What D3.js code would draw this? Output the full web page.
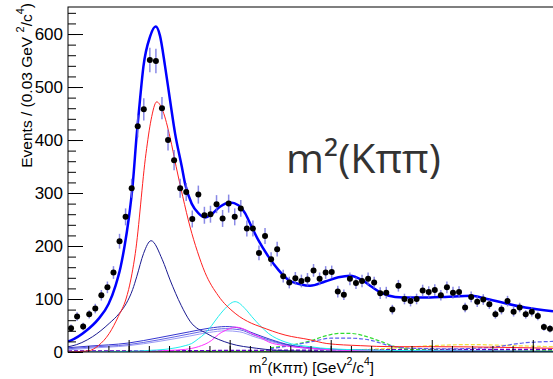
<!DOCTYPE html>
<html>
<head>
<meta charset="utf-8">
<script src="https://cdn.jsdelivr.net/npm/d3@7"></script>
<style>
  body { margin: 0; background: #fff; }
  svg { display: block; }
</style>
</head>
<body>
<script>
// histogram: 80 bins of 0.03 GeV^2 from 1.2
var xMin = 1.2, xMax = 3.6, binWidth = 0.03;
var counts = [45, 67, 48, 71, 82, 107, 122, 150, 209, 255,
  309, 426, 458, 551, 549, 460, 400, 362, 309, 302,
  251, 297, 258, 260, 279, 252, 280, 255, 271, 233,
  233, 187, 219, 175, 194, 143, 131, 139, 134, 137,
  154, 138, 150, 151, 114, 108, 138, 130, 134, 138,
  131, 111, 112, 80, 125, 100, 96, 100, 116, 113,
  117, 107, 122, 112, 113, 84, 104, 95, 99, 90,
  71, 80, 96, 76, 84, 71, 76, 68, 47, 44];
var errs = [7, 8, 7, 8, 9, 10, 11, 12, 14, 16,
  18, 21, 21, 23, 23, 21, 20, 19, 18, 17,
  16, 17, 16, 16, 17, 16, 17, 16, 16, 15,
  15, 14, 15, 13, 14, 12, 11, 12, 12, 12,
  12, 12, 12, 12, 11, 10, 12, 11, 12, 12,
  11, 11, 11, 9, 11, 10, 10, 10, 11, 11,
  11, 10, 11, 11, 11, 9, 10, 10, 10, 9,
  8, 9, 10, 9, 9, 8, 9, 8, 7, 7];

// fit curves, [m2, events]
var totalFit = [[1.2, 20], [1.215, 22], [1.29, 40], [1.35, 62], [1.40, 90], [1.435, 125], [1.46, 160],
  [1.48, 200], [1.50, 250], [1.52, 315], [1.54, 410], [1.556, 475], [1.573, 538], [1.606, 595],
  [1.634, 614], [1.655, 597], [1.68, 540], [1.705, 475], [1.73, 412], [1.763, 350], [1.779, 318],
  [1.812, 280], [1.845, 262], [1.878, 254], [1.911, 260], [1.952, 274], [2.002, 282], [2.043, 277],
  [2.076, 262], [2.109, 236], [2.142, 211], [2.192, 180], [2.241, 155], [2.291, 136], [2.349, 128],
  [2.398, 125], [2.472, 133], [2.538, 141], [2.596, 144], [2.654, 136], [2.703, 123], [2.753, 111],
  [2.819, 104], [2.901, 103], [2.992, 103], [3.066, 104], [3.199, 106], [3.264, 101], [3.363, 92],
  [3.462, 84], [3.6, 77]];
var redComp = [[1.2, 0], [1.3, 2], [1.35, 12], [1.404, 35], [1.449, 67], [1.487, 100], [1.50, 118],
  [1.533, 186], [1.586, 375], [1.611, 438], [1.639, 472], [1.669, 455], [1.705, 405], [1.735, 350],
  [1.768, 293], [1.804, 236], [1.84, 190], [1.878, 150], [1.944, 106], [2.027, 73], [2.109, 54],
  [2.15, 48], [2.274, 32], [2.398, 23], [2.481, 16], [2.646, 12], [2.809, 10], [3.007, 10], [3.6, 7]];
var navyComp = [[1.2, 10], [1.215, 11], [1.322, 29], [1.404, 54], [1.454, 73], [1.489, 92], [1.52, 118],
  [1.54, 142], [1.574, 186], [1.611, 210], [1.667, 174], [1.705, 136], [1.76, 88], [1.804, 58],
  [1.886, 35], [2.002, 16], [2.134, 7], [2.3, 2], [2.6, 0.5], [3.6, 0]];
var cyanComp = [[1.2, 0], [1.5, 1], [1.6, 3], [1.68, 5], [1.78, 12], [1.812, 16], [1.845, 25],
  [1.878, 35], [1.911, 50], [1.944, 67], [1.97, 79], [2.027, 95], [2.083, 79], [2.109, 67],
  [2.15, 50], [2.192, 35], [2.274, 19], [2.398, 10], [2.5, 6], [2.8, 3], [3.6, 1]];
var magentaComp = [[1.2, 0], [1.5, 1], [1.7, 3], [1.78, 5], [1.845, 10], [1.911, 22], [1.944, 33],
  [2.0, 44], [2.027, 47], [2.083, 41], [2.109, 35], [2.15, 28], [2.192, 19], [2.27, 12],
  [2.398, 7], [2.6, 3], [3.6, 1]];
var broadA = [[1.2, 8], [1.3, 11], [1.5, 17], [1.65, 27], [1.8, 38], [1.9, 45], [1.98, 48], [2.05, 45],
  [2.12, 35], [2.2, 24], [2.3, 13], [2.4, 8], [2.6, 4], [3.0, 2], [3.6, 1]];
var broadB = [[1.2, 6], [1.3, 9], [1.5, 14], [1.65, 23], [1.8, 34], [1.9, 41], [1.98, 44], [2.05, 42],
  [2.12, 32], [2.2, 22], [2.3, 12], [2.4, 7], [2.6, 4], [3.0, 2], [3.6, 1]];
var broadC = [[1.2, 4], [1.3, 7], [1.5, 12], [1.65, 20], [1.8, 30], [1.9, 37], [1.98, 40], [2.05, 38],
  [2.12, 29], [2.2, 20], [2.3, 11], [2.4, 6], [2.6, 3], [3.0, 2], [3.6, 1]];
var greenDash = [[2.2, 8], [2.3, 13], [2.4, 21], [2.47, 30], [2.54, 35], [2.6, 35], [2.66, 31],
  [2.74, 21], [2.82, 10], [2.9, 5], [3.1, 3], [3.6, 2]];
var blueDash = [[2.2, 6], [2.3, 12], [2.4, 19], [2.5, 26], [2.6, 26], [2.7, 22], [2.78, 13], [2.9, 7],
  [3.1, 6], [3.3, 9], [3.45, 17], [3.6, 20]];
var yellowDash = [[2.6, 4], [2.8, 7], [3.0, 12], [3.2, 14], [3.4, 12], [3.6, 10]];
var purpleDash = [[1.2, 2], [2.0, 3], [2.6, 4], [3.0, 5], [3.6, 5]];
var greyDash = [[1.2, 1], [2.0, 2], [3.0, 3], [3.6, 3]];
var greenFlat = [[1.2, 0.5], [2.4, 1], [3.6, 1]];

var yMajor = [0, 100, 200, 300, 400, 500, 600];
var yMinor = d3.range(0, 660, 20);
var xMajor = [1.5, 2.0, 2.5, 3.0, 3.5];
var xMinor = d3.range(1.3, 3.6, 0.1);

var W = 553, H = 379;
var L = 68, T = 7, B = 352, R = 553;

var svg = d3.select("body").append("svg")
  .attr("width", W).attr("height", H)
  .style("font-family", "'Liberation Sans', Arial, sans-serif");

var x = d3.scaleLinear().domain([xMin, xMax]).range([L, R]);
var y = d3.scaleLinear().domain([0, 651]).range([B, T]);

var plot = svg.append("g");
plot.append("clipPath").attr("id", "clip")
  .append("rect").attr("x", L).attr("y", T).attr("width", R - L).attr("height", B - T);

var lines = plot.append("g").attr("clip-path", "url(#clip)");
var line = d3.line()
  .x(function(d) { return x(d[0]); })
  .y(function(d) { return y(d[1]); })
  .curve(d3.curveMonotoneX);

function drawCurve(data, color, width, dash) {
  lines.append("path")
    .datum(data)
    .attr("d", line)
    .attr("fill", "none")
    .attr("stroke", color)
    .attr("stroke-width", width)
    .attr("stroke-dasharray", dash || null);
}

drawCurve(greenFlat, "#22cc22", 1.5);
drawCurve(greyDash, "#888888", 1.2, "4,2");
drawCurve(purpleDash, "#6600cc", 1.2, "4,2");
drawCurve(yellowDash, "#f2e040", 1.2, "4,2");
drawCurve(greenDash, "#33dd33", 1.2, "4,2");
drawCurve(blueDash, "#5f5ff0", 1.2, "4,2");
drawCurve(broadC, "#9a9af5", 1);
drawCurve(broadB, "#6464e6", 1);
drawCurve(broadA, "#3535d0", 1);
drawCurve(magentaComp, "#ff33ff", 1);
drawCurve(cyanComp, "#22eeee", 1);
drawCurve(navyComp, "#1a1a90", 1);
drawCurve(redComp, "#ff2020", 1);
drawCurve(totalFit, "#0000ff", 2.5);

// data points
var centers = counts.map(function(c, i) { return xMin + binWidth * (i + 0.5); });
var pts = plot.append("g").selectAll("g")
  .data(counts)
  .enter().append("g");
pts.append("line")
  .attr("x1", function(d, i) { return x(centers[i]); })
  .attr("x2", function(d, i) { return x(centers[i]); })
  .attr("y1", function(d, i) { return y(d - errs[i]); })
  .attr("y2", function(d, i) { return y(d + errs[i]); })
  .attr("stroke", "#6b6be0")
  .attr("stroke-opacity", 0.8)
  .attr("stroke-width", 1.5);
pts.append("circle")
  .attr("cx", function(d, i) { return x(centers[i]); })
  .attr("cy", function(d) { return y(d); })
  .attr("r", 3)
  .attr("fill", "#000");

// axes
var yAxis = d3.axisLeft(y).tickValues(yMajor).tickSize(-15).tickSizeOuter(0).tickPadding(5);
var yAxisMinor = d3.axisLeft(y).tickValues(yMinor).tickSize(-8).tickSizeOuter(0).tickFormat("");
var xAxis = d3.axisBottom(x).tickValues(xMajor).tickSize(-12).tickSizeOuter(0).tickFormat("");
var xAxisMinor = d3.axisBottom(x).tickValues(xMinor).tickSize(-6).tickSizeOuter(0).tickFormat("");

svg.append("g").attr("transform", "translate(" + L + ",0)").call(yAxisMinor);
var ya = svg.append("g").attr("transform", "translate(" + L + ",0)").call(yAxis);
svg.append("g").attr("transform", "translate(0," + B + ")").call(xAxisMinor);
svg.append("g").attr("transform", "translate(0," + B + ")").call(xAxis);
svg.selectAll(".domain").remove();
ya.selectAll("text").attr("font-size", 17).attr("fill", "#000")
  .style("font-family", "'Liberation Sans', Arial, sans-serif");
svg.selectAll(".tick line").attr("stroke", "#000");

svg.append("rect")
  .attr("x", L).attr("y", T).attr("width", R - L + 2).attr("height", B - T)
  .attr("fill", "none").attr("stroke", "#000").attr("stroke-width", 1);

// y title
var yt = svg.append("text")
  .attr("transform", "translate(32,3) rotate(-90)")
  .attr("text-anchor", "end")
  .attr("font-size", 15.5);
yt.append("tspan").text("Events / (0.03 GeV ");
yt.append("tspan").attr("font-size", 11).attr("dy", -8).text("2");
yt.append("tspan").attr("dy", 8).text("/c");
yt.append("tspan").attr("font-size", 11).attr("dy", -8).text("4");
yt.append("tspan").attr("dy", 8).text(")");

// x title
var xt = svg.append("text")
  .attr("x", 374).attr("y", 373)
  .attr("text-anchor", "end")
  .attr("font-size", 15);
xt.append("tspan").text("m");
xt.append("tspan").attr("font-size", 10.5).attr("dy", -8).text("2");
xt.append("tspan").attr("dy", 8).text("(K\u03c0\u03c0) [GeV");
xt.append("tspan").attr("font-size", 10.5).attr("dy", -8).text("2");
xt.append("tspan").attr("dy", 8).text("/c");
xt.append("tspan").attr("font-size", 10.5).attr("dy", -8).text("4");
xt.append("tspan").attr("dy", 8).text("]");

// big annotation
svg.append("text")
  .attr("x", 286).attr("y", 173)
  .attr("font-family", "'Open Sans', sans-serif")
  .attr("font-size", 41)
  .attr("fill", "#333")
  .text("m\u00b2(K\u03c0\u03c0)");
</script>
</body>
</html>
